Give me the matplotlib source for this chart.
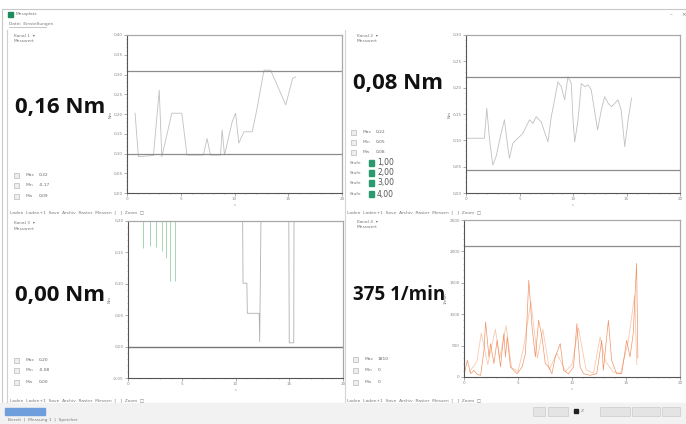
import matplotlib
matplotlib.use("Agg")
import matplotlib.pyplot as plt
from matplotlib.patches import Rectangle

W, H = 686, 424

# ---------------- data ----------------
x_ticks = [0, 5, 10, 15, 20]

# panel 1: torque channel 1 (Nm)
t1_x = [0.75, 1.06, 2.46, 3.00, 3.24, 4.17, 5.10, 5.58, 7.10, 7.45, 7.76, 8.70,
        8.85, 9.07, 9.78, 10.10, 10.40, 10.87, 11.65, 12.10, 12.74, 13.36, 14.77,
        15.40, 15.70]
t1_y = [0.202, 0.092, 0.095, 0.260, 0.092, 0.202, 0.202, 0.096, 0.096, 0.138,
        0.096, 0.096, 0.160, 0.096, 0.180, 0.202, 0.126, 0.155, 0.155, 0.214,
        0.311, 0.311, 0.223, 0.290, 0.294]
t1_limits = [0.10, 0.31]

# panel 2: torque channel 2 (Nm)
t2_x = [0.00, 1.72, 1.94, 2.19, 2.50, 2.81, 3.28, 3.59, 3.90, 4.06, 4.37, 4.69,
        5.31, 5.62, 5.94, 6.25, 6.56, 7.03, 7.34, 7.66, 7.97, 8.28, 8.59, 8.90,
        9.22, 9.53, 9.84, 10.00, 10.16, 10.47, 10.78, 11.10, 11.40, 11.70, 12.00,
        12.30, 12.65, 12.96, 13.30, 13.60, 13.90, 14.20, 14.50, 14.84, 15.15, 15.47]
t2_y = [0.104, 0.104, 0.161, 0.104, 0.053, 0.069, 0.113, 0.139, 0.088, 0.066,
        0.094, 0.101, 0.113, 0.126, 0.139, 0.132, 0.145, 0.135, 0.116, 0.097,
        0.145, 0.177, 0.211, 0.202, 0.177, 0.221, 0.208, 0.139, 0.097, 0.139,
        0.208, 0.202, 0.205, 0.196, 0.158, 0.120, 0.158, 0.183, 0.170, 0.164,
        0.170, 0.177, 0.158, 0.088, 0.139, 0.180]
t2_limits = [0.044, 0.221]

# panel 3: torque channel 3 (Nm), mostly above the scale
t3_x = [0.0, 10.65, 10.70, 11.06, 11.10, 12.20, 12.25, 12.40, 14.95, 15.00,
        15.42, 15.45, 20.0]
t3_y = [0.25, 0.25, 0.101, 0.101, 0.053, 0.053, 0.008, 0.25, 0.25, 0.006,
        0.006, 0.25, 0.25]
t3_spike_x = [1.40, 2.03, 2.65, 3.12, 3.58, 3.90, 4.36]
t3_spike_y = [0.157, 0.160, 0.158, 0.152, 0.141, 0.104, 0.104]
t3_limit = 0.0

# panel 4: speed (1/min)
n_x = [0.00, 0.31, 0.62, 0.92, 1.23, 1.54, 1.85, 2.00, 2.31, 2.46, 2.77, 3.07,
       3.38, 3.69, 3.84, 4.00, 4.30, 4.61, 4.92, 5.38, 5.69, 6.00, 6.30, 6.61,
       6.91, 7.22, 7.53, 7.84, 8.14, 8.45, 8.91, 9.22, 9.68, 10.14, 10.45, 10.75,
       11.06, 11.68, 12.29, 12.75, 12.90, 13.37, 13.67, 14.13, 14.60, 15.06,
       15.37, 15.67, 15.98, 16.10]
n_y = [30, 266, 53, 106, 40, 27, 426, 877, 319, 532, 213, 585, 160, 692, 319,
       638, 160, 106, 53, 160, 372, 1543, 798, 319, 904, 638, 213, 160, 53, 319,
       532, 106, 53, 160, 851, 160, 53, 27, 53, 585, 106, 904, 266, 53, 53, 585,
       319, 692, 1809, 300]
n2_x = [0.5, 1.2, 1.6, 2.2, 2.9, 3.3, 3.9, 4.4, 5.0, 5.5, 6.2, 6.8, 7.3, 7.9,
        8.6, 9.4, 10.0, 10.6, 11.3, 12.0, 12.6, 13.1, 13.8, 14.5, 15.2, 15.8, 16.0]
n2_y = [80, 250, 700, 200, 760, 300, 820, 150, 90, 450, 1200, 300, 760, 120,
        380, 90, 200, 780, 120, 60, 640, 250, 80, 60, 560, 1300, 200]
n_limit = 2080

big_values = ["0,16 Nm", "0,08 Nm", "0,00 Nm", "375 1/min"]
stat_names = ["Max", "Min", "Mw"]
stat_values = [["0,32", "-0,17", "0,09"],
               ["0,22", "0,05", "0,08"],
               ["0,20", "-0,08", "0,00"],
               ["1810", "0", "0"]]
step_labels = ["Stufe", "Stufe", "Stufe", "Stufe"]
step_values = ["1,00", "2,00", "3,00", "4,00"]

# ---------------- figure and window chrome ----------------
fig = plt.figure(figsize=(W / 100, H / 100), dpi=100)
fig.patch.set_facecolor("white")

bg = fig.add_axes([0, 0, 1, 1], zorder=0)
bg.set_xlim(0, W)
bg.set_ylim(H, 0)
bg.axis("off")

GRAY = "#7a7a7a"
TINY = 3.2

# window border + title bar
bg.add_patch(Rectangle((2, 9), 684, 400, fill=False, ec="#c8c8c8", lw=0.8))
bg.add_patch(Rectangle((8, 12), 5, 5, color="#1f8a5c"))
bg.text(16, 14.5, "Messplatz", fontsize=TINY, color=GRAY, va="center")
bg.text(671, 15, "–", fontsize=4, color=GRAY, ha="center", va="center")
bg.text(684, 15, "×", fontsize=4, color=GRAY, ha="center", va="center")
bg.text(9, 24.5, "Datei  Einstellungen", fontsize=TINY, color=GRAY, va="center")
bg.plot([9, 46], [26.5, 26.5], color="#9a9a9a", lw=0.4)

# panel borders
bg.plot([7, 7], [30, 402], color="#cfcfcf", lw=0.8)
bg.plot([345, 345], [30, 402], color="#d5d5d5", lw=0.8)

# bottom strip
bg.add_patch(Rectangle((0, 403), W, 21, color="#f2f2f2"))
bg.add_patch(Rectangle((5, 408), 40, 7, color="#6e9fdc"))
bg.text(8, 420.5, "Bereit  |  Messung 1  |  Speicher", fontsize=TINY,
        color=GRAY, va="center")
for x0, w in [(533, 12), (548, 20), (600, 30), (632, 28), (662, 18)]:
    bg.add_patch(Rectangle((x0, 407), w, 9, fc="#e4e4e4", ec="#c4c4c4", lw=0.4))
bg.add_patch(Rectangle((574, 409), 4, 4, color="#222222"))
bg.text(581, 411.5, "Z", fontsize=TINY, color=GRAY, va="center")

# toolbar lines under the plots
toolbar = "Laden  Laden+1  Save  Archiv  Raster  Messen  [   ]  Zoom  \u25a1"
for x0, y0 in [(10, 212), (347, 212), (10, 400), (347, 400)]:
    bg.text(x0, y0, toolbar, fontsize=TINY, color=GRAY, va="center")

# ---------------- panels ----------------
panels = [
    dict(ox=0, tx=15, box=(127, 35, 342, 193), val_y=108, fs=16,
         ylim=(0, 0.40), ystep=0.05, head=36),
    dict(ox=343, tx=353, box=(466, 35, 680, 193), val_y=84, fs=16,
         ylim=(0, 0.30), ystep=0.05, head=36),
    dict(ox=0, tx=15, box=(128, 221, 343, 378), val_y=295, fs=16,
         ylim=(-0.05, 0.20), ystep=0.05, head=223),
    dict(ox=343, tx=353, box=(464, 220, 680, 377), val_y=295, fs=13.5,
         ylim=(0, 2500), ystep=500, head=222),
]


def add_axes_px(x0, y0, x1, y1):
    return fig.add_axes([x0 / W, 1 - y1 / H, (x1 - x0) / W, (y1 - y0) / H], zorder=2)


def style_axes(ax, ylim, ystep, unit):
    ax.set_xlim(0, 20)
    ax.set_ylim(*ylim)
    ax.set_xticks(x_ticks)
    n = int(round((ylim[1] - ylim[0]) / ystep))
    yt = [ylim[0] + i * ystep for i in range(n + 1)]
    ax.set_yticks(yt)
    if ystep < 1:
        ax.set_yticklabels([f"{v:.2f}".replace(".", ",") for v in yt])
    ax.minorticks_on()
    ax.tick_params(labelsize=3, colors="#8a8a8a", length=2, width=0.5, pad=1)
    ax.tick_params(which="minor", length=1, width=0.4, colors="#9a9a9a")
    for side in ["top", "right"]:
        ax.spines[side].set_color("#a8a8a8")
        ax.spines[side].set_linewidth(0.9)
    for side in ["left", "bottom"]:
        ax.spines[side].set_color("#555555")
        ax.spines[side].set_linewidth(0.8)
    ax.set_ylabel(unit, fontsize=3, color="#777777", labelpad=1)
    ax.set_xlabel("s", fontsize=2.5, color="#999999", labelpad=1)


units = ["Nm", "Nm", "Nm", "1/min"]
axes = []
for i, p in enumerate(panels):
    ox = p["ox"]
    # header / dropdown
    bg.text(ox + 14, p["head"], "Kanal %d  \u25be" % (i + 1), fontsize=TINY,
            color=GRAY, va="center")
    bg.text(ox + 14, p["head"] + 5.5, "Messwert", fontsize=TINY, color=GRAY, va="center")
    # big readout
    bg.text(p["tx"], p["val_y"], big_values[i], fontsize=p["fs"], fontweight="bold",
            family=["Open Sans", "DejaVu Sans"], color="#111111", va="center")
    ax = add_axes_px(*p["box"])
    style_axes(ax, p["ylim"], p["ystep"], units[i])
    axes.append(ax)

# stats rows (checkbox, name, value)
stat_rows = [(14, [175, 185, 196]), (351, [132, 142, 152]),
             (14, [360, 370, 382]), (353, [359, 370, 382])]
for i, (sx, ys) in enumerate(stat_rows):
    for j, yy in enumerate(ys):
        bg.add_patch(Rectangle((sx, yy - 2.5), 5, 5, fc="#eeeeee", ec="#aaaaaa", lw=0.4))
        bg.text(sx + 12, yy, stat_names[j], fontsize=TINY, color=GRAY, va="center")
        bg.text(sx + 25, yy, stat_values[i][j], fontsize=TINY, color="#666666", va="center")

# step rows in panel 2
for k, yy in enumerate([163, 173, 183, 194]):
    bg.text(350, yy, step_labels[k], fontsize=TINY, color=GRAY, va="center")
    bg.add_patch(Rectangle((369, yy - 3), 5, 6, color="#2c9a70"))
    bg.text(377, yy, step_values[k], fontsize=5.5, color="#555555", va="center")

# ---------------- traces ----------------
ax1, ax2, ax3, ax4 = axes
TRACE = "#c0c0c0"
LIMIT = "#8c8c8c"

ax1.plot(t1_x, t1_y, color=TRACE, lw=0.6)
for lim in t1_limits:
    ax1.axhline(lim, color=LIMIT, lw=0.9)

ax2.plot(t2_x, t2_y, color=TRACE, lw=0.6)
for lim in t2_limits:
    ax2.axhline(lim, color=LIMIT, lw=0.9)

ax3.plot(t3_x, t3_y, color="#b0b0b0", lw=0.6)
ax3.vlines(t3_spike_x, t3_spike_y, ax3.get_ylim()[1], color="#a6d6b1", lw=0.7)
ax3.axhline(t3_limit, color="#777777", lw=1.0)

ax4.plot(n2_x, n2_y, color="#f8c4a6", lw=0.6, alpha=0.9)
ax4.plot(n_x, n_y, color="#ec7a45", lw=0.5, alpha=0.8)
ax4.axhline(n_limit, color=LIMIT, lw=0.9)

fig.savefig("out.png", dpi=100)
